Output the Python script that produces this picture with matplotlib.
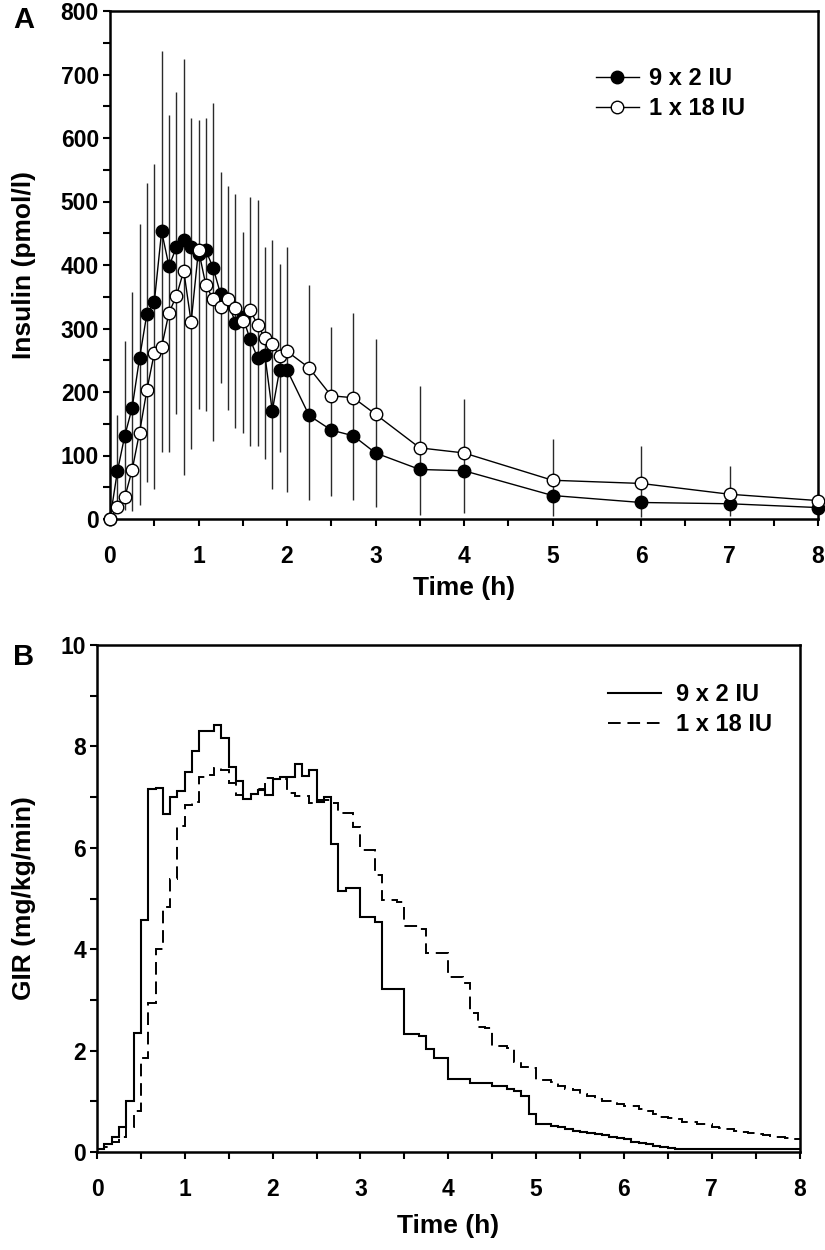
import numpy as np
import matplotlib
matplotlib.use("Agg")
import matplotlib.pyplot as plt
from matplotlib.ticker import MultipleLocator

plt.rcParams['font.family'] = ['Liberation Sans', 'DejaVu Sans']
plt.rcParams['font.weight'] = 'bold'

# Panel A: insulin, sampling times in minutes
ins_min = [0, 5, 10, 15, 20, 25, 30, 35, 40, 45, 50, 55, 60, 65, 70, 75, 80, 85, 90,
           95, 100, 105, 110, 115, 120, 135, 150, 165, 180, 210, 240, 300, 360, 420, 480]
ins_9x2 = [0, 75, 131, 175, 253, 323, 341, 453, 398, 428, 439, 428, 418, 423, 395, 354, 342, 309, 318,
           283, 254, 258, 170, 235, 235, 163, 140, 131, 104, 78, 76, 37, 26, 24, 18]
ins_1x18 = [0, 19, 34, 77, 136, 203, 261, 271, 325, 351, 391, 310, 424, 368, 346, 334, 346, 333, 312,
            329, 306, 285, 275, 256, 264, 238, 194, 191, 165, 112, 104, 61, 56, 39, 29]
# extent of the SD bars at each time
sd_top = [0, 163, 281, 357, 465, 529, 559, 737, 636, 673, 724, 631, 628, 632, 655, 546, 524, 512, 452,
          507, 502, 428, 439, 402, 428, 368, 303, 325, 283, 209, 189, 126, 115, 84, 45]
sd_bot = [0, 9, 14, 13, 22, 59, 48, 106, 106, 166, 69, 110, 174, 170, 123, 214, 172, 144, 135,
          115, 115, 95, 48, 106, 43, 30, 36, 30, 19, 6, 9, 5, 3, 4, 10]

# Panel B: glucose infusion rate, 5-min means from 0 to 8 h
gir_9x2 = [0.05, 0.15, 0.3, 0.5, 1.0, 2.35, 4.57, 7.16, 7.17, 6.66, 7.0, 7.13,
           7.5, 7.9, 8.3, 8.3, 8.42, 8.16, 7.6, 7.31, 6.97, 7.06, 7.14, 7.05,
           7.36, 7.4, 7.4, 7.66, 7.42, 7.53, 6.9, 7.0, 6.07, 5.15, 5.21, 5.21,
           4.63, 4.63, 4.53, 3.22, 3.22, 3.22, 2.33, 2.33, 2.28, 2.04, 1.85, 1.85,
           1.44, 1.44, 1.44, 1.36, 1.36, 1.36, 1.3, 1.3, 1.25, 1.2, 1.1, 0.75,
           0.55, 0.55, 0.52, 0.5, 0.45, 0.42, 0.4, 0.38, 0.35, 0.33, 0.3, 0.28,
           0.25, 0.2, 0.18, 0.15, 0.12, 0.1, 0.08, 0.06, 0.05, 0.05, 0.05, 0.05,
           0.05, 0.05, 0.05, 0.05, 0.05, 0.05, 0.05, 0.05, 0.05, 0.05, 0.05, 0.05]
gir_1x18 = [0.05, 0.1, 0.2, 0.3, 0.5, 0.8, 1.85, 2.93, 4.0, 4.84, 5.38, 6.43,
            6.84, 6.91, 7.39, 7.44, 7.57, 7.53, 7.28, 7.04, 6.97, 7.07, 7.15, 7.37,
            7.35, 7.35, 7.08, 7.03, 7.03, 6.88, 6.95, 6.95, 6.88, 6.69, 6.69, 6.41,
            5.96, 5.96, 5.46, 4.97, 4.97, 4.94, 4.45, 4.45, 4.4, 3.93, 3.93, 3.93,
            3.45, 3.45, 3.34, 2.74, 2.47, 2.45, 2.1, 2.1, 2.05, 1.78, 1.67, 1.65,
            1.42, 1.42, 1.39, 1.3, 1.25, 1.22, 1.15, 1.1, 1.05, 1.0, 1.0, 0.95,
            0.9, 0.9, 0.85, 0.8, 0.75, 0.7, 0.68, 0.65, 0.6, 0.6, 0.55, 0.55,
            0.5, 0.48, 0.45, 0.42, 0.4, 0.38, 0.35, 0.33, 0.3, 0.3, 0.28, 0.25]
gir_edges_min = np.arange(0, 485, 5)

labels = ['9 x 2 IU', '1 x 18 IU']

t_ins = np.array(ins_min) / 60.0
t_gir = gir_edges_min / 60.0

W, H = 825, 1250
fig = plt.figure(figsize=(W/100, H/100), dpi=100)

# ---- Panel A
axA = fig.add_axes([110/W, 1-519/H, 708/W, 508/H])
axA.vlines(t_ins, sd_bot, sd_top, colors='#2a2a2a', linewidth=1.0, zorder=1)
axA.plot(t_ins, ins_9x2, '-o', color='black', lw=1.0, ms=9, mfc='black', mec='black',
         mew=1.0, label=labels[0], clip_on=False, zorder=3)
axA.plot(t_ins, ins_1x18, '-o', color='black', lw=1.0, ms=9, mfc='white', mec='black',
         mew=1.0, label=labels[1], clip_on=False, zorder=4)
axA.set_xlim(0, 8)
axA.set_ylim(0, 800)
axA.xaxis.set_major_locator(MultipleLocator(1))
axA.xaxis.set_minor_locator(MultipleLocator(0.5))
axA.yaxis.set_major_locator(MultipleLocator(100))
axA.yaxis.set_minor_locator(MultipleLocator(50))
axA.set_xlabel('Time (h)', fontsize=19, fontweight='bold')
axA.set_ylabel('Insulin (pmol/l)', fontsize=19, fontweight='bold')
axA.xaxis.set_label_coords(0.5, (519-576)/508)
axA.yaxis.set_label_coords((36-110)/708, 0.5)
axA.legend(loc='upper left', bbox_to_anchor=(596/W, 1-67/H), bbox_transform=fig.transFigure,
           frameon=False, fontsize=17, handlelength=1.8, handletextpad=0.45,
           labelspacing=0.3, borderpad=0, borderaxespad=0)
fig.text(13/W, 1-20/H, 'A', fontsize=21, fontweight='bold', va='center', ha='left')

# ---- Panel B
axB = fig.add_axes([97/W, 1-1152/H, 702.5/W, 507/H])
axB.stairs(gir_9x2, t_gir, baseline=None, color='black', lw=1.5, label=labels[0])
axB.stairs(gir_1x18, t_gir, baseline=None, color='black', lw=1.4, linestyle=(0, (6.5, 3.5)),
           label=labels[1])
axB.set_xlim(0, 8)
axB.set_ylim(0, 10)
axB.xaxis.set_major_locator(MultipleLocator(1))
axB.xaxis.set_minor_locator(MultipleLocator(0.5))
axB.yaxis.set_major_locator(MultipleLocator(2))
axB.yaxis.set_minor_locator(MultipleLocator(1))
axB.set_xlabel('Time (h)', fontsize=19, fontweight='bold')
axB.set_ylabel('GIR (mg/kg/min)', fontsize=19, fontweight='bold')
axB.xaxis.set_label_coords(0.5, (1152-1214)/507)
axB.yaxis.set_label_coords((36-97)/702.5, 0.5)
axB.legend(loc='upper left', bbox_to_anchor=(608/W, 1-683/H), bbox_transform=fig.transFigure,
           frameon=False, fontsize=17, handlelength=2.25, handletextpad=0.65,
           labelspacing=0.3, borderpad=0, borderaxespad=0)
fig.text(13/W, 1-657/H, 'B', fontsize=21, fontweight='bold', va='center', ha='left')

for ax in (axA, axB):
    for s in ax.spines.values():
        s.set_linewidth(1.8)
    ax.tick_params(which='both', direction='out', width=1.5, length=5, labelsize=16.5)
    ax.tick_params(axis='y', which='both', pad=3)
    ax.tick_params(axis='x', which='both', pad=14)
    for lab in ax.get_xticklabels() + ax.get_yticklabels():
        lab.set_fontweight('bold')

fig.savefig('out.png', dpi=100)
